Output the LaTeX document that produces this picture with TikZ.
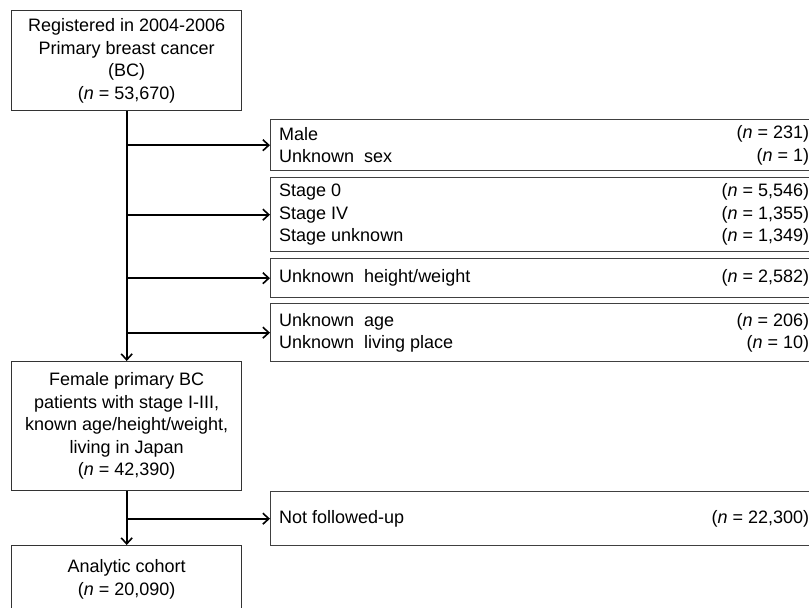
\documentclass[tikz,border=0pt]{standalone}
\usepackage{fontspec}
\setmainfont{Liberation Sans}
\usetikzlibrary{arrows.meta}
\begin{document}
\begin{tikzpicture}[x=1pt,y=-1pt,
  box/.style={draw=black!80,line width=1.4pt,inner sep=0pt,anchor=north west,
    font=\fontsize{18}{22.5}\selectfont,align=center},
  rbox/.style={draw=black!75,line width=1.4pt,inner sep=0pt,anchor=north west,minimum width=540pt},
  lt/.style={inner sep=0pt,anchor=west,align=left,font=\fontsize{18}{22.5}\selectfont},
  rt/.style={inner sep=0pt,anchor=east,align=right,font=\fontsize{18}{22.5}\selectfont},
  flow/.style={line width=2pt,-{Straight Barb[length=6pt,width=11pt,line width=1.6pt]}},
]
\useasboundingbox (0,0) rectangle (809,608);
\clip (0,0) rectangle (809,608);

\node (top) [box,minimum width=230pt,minimum height=100pt] at (11,10)
  {Registered in 2004-2006\\Primary breast cancer\\(BC)\\(\textit{n} = 53,670)};
\node (fem) [box,minimum width=230pt,minimum height=129pt] at (11,361)
  {Female primary BC\\patients with stage I-III,\\known age/height/weight,\\living in Japan\\(\textit{n} = 42,390)};
\node (coh) [box,minimum width=230pt,minimum height=67pt] at (11,545)
  {Analytic cohort\\(\textit{n} = 20,090)};

\node (b1) [rbox,minimum height=51pt] at (270,119) {};
\node (b2) [rbox,minimum height=74pt] at (270,177) {};
\node (b3) [rbox,minimum height=39pt] at (270,258) {};
\node (b4) [rbox,minimum height=58pt] at (270,303) {};
\node (b5) [rbox,minimum height=54pt] at (270,491) {};

\node (t1) [lt] at ([xshift=9pt]b1.west) {Male\\Unknown\ \ sex};
\node (n1) [rt] at ([xshift=-2pt]b1.east) {(\textit{n} = 231)\\(\textit{n} = 1)};
\node (t2) [lt] at ([xshift=9pt]b2.west) {Stage 0\\Stage IV\\Stage unknown};
\node (n2) [rt] at ([xshift=-2pt]b2.east) {(\textit{n} = 5,546)\\(\textit{n} = 1,355)\\(\textit{n} = 1,349)};
\node (t3) [lt] at ([xshift=9pt]b3.west) {Unknown\ \ height/weight};
\node (n3) [rt] at ([xshift=-2pt]b3.east) {(\textit{n} = 2,582)};
\node (t4) [lt] at ([xshift=9pt]b4.west) {Unknown\ \ age\\Unknown\ \ living place};
\node (n4) [rt] at ([xshift=-2pt]b4.east) {(\textit{n} = 206)\\(\textit{n} = 10)};
\node (t5) [lt] at ([xshift=9pt]b5.west) {Not followed-up};
\node (n5) [rt] at ([xshift=-2pt]b5.east) {(\textit{n} = 22,300)};

\draw[flow] (top.south) -- (fem.north);
\draw[flow] (top.south |- b1.west) -- (b1.west);
\draw[flow] (top.south |- b2.west) -- (b2.west);
\draw[flow] (top.south |- b3.west) -- (b3.west);
\draw[flow] (top.south |- b4.west) -- (b4.west);
\draw[flow] (fem.south) -- (coh.north);
\draw[flow] (fem.south |- b5.west) -- (b5.west);
\end{tikzpicture}
\end{document}
